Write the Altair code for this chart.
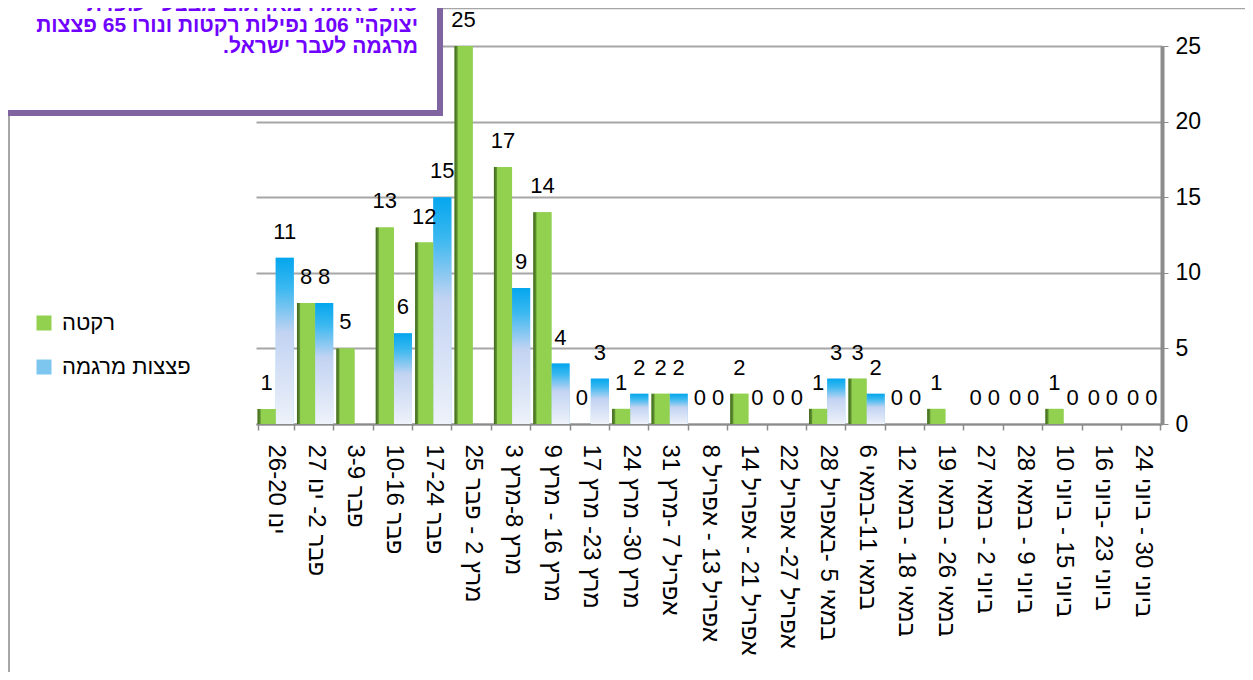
import re
import altair as alt
import pandas as pd

# ---------------- data ----------------
weeks = [
    "26-20 ינו",
    "27 ינו -2 פבר",
    "3-9 פבר",
    "10-16 פבר",
    "17-24 פבר",
    "25 פבר - 2 מרץ",
    "3 מרץ-8 מרץ",
    "9 מרץ - 16 מרץ",
    "17 מרץ -23 מרץ",
    "24 מרץ -30 מרץ",
    "31 מרץ- 7 אפריל",
    "8 אפריל - 13 אפריל",
    "14 אפריל - 21 אפריל",
    "22 אפריל -27 אפריל",
    "28 באפריל- 5 במאי",
    "6 במאי-11 במאי",
    "12 במאי - 18 במאי",
    "19 במאי - 26 במאי",
    "27 במאי - 2 ביוני",
    "28 במאי - 9 ביוני",
    "10 ביוני - 15 ביוני",
    "16 ביוני- 23 ביוני",
    "24 ביוני - 30 ביוני",
]
rockets = [1, 8, 5, 13, 12, 25, 17, 14, 0, 1, 2, 0, 2, 0, 1, 3, 0, 1, 0, 0, 1, 0, 0]
mortars = [11, 8, None, 6, 15, None, 9, 4, 3, 2, 2, 0, 0, 0, 3, 2, 0, None, 0, 0, 0, 0, 0]
series_names = ["רקטה", "פצצות מרגמה"]
y_ticks = [0, 5, 10, 15, 20, 25]
note_lines = [
    'סה"כ אותרו מאז תום מבצע "עופרת',
    'יצוקה" 106 נפילות רקטות ונורו 65  פצצות',
    "מרגמה לעבר ישראל.\u200f",
]

FONT = "Liberation Sans"


def visual_ltr(s):
    # keep the left-to-right word order seen in the picture
    return re.sub(r"([\u0590-\u05FF]+)", "\\1\u200e", s)


labels = [visual_ltr(w) for w in weeks]

rows = []
for lab, r, m in zip(labels, rockets, mortars):
    rows.append({"week": lab, "series": series_names[0], "value": r})
    if m is not None:
        rows.append({"week": lab, "series": series_names[1], "value": m})
df = pd.DataFrame(rows)

# ---------------- encodings ----------------
x_enc = alt.X(
    "week:N",
    scale=alt.Scale(domain=labels, paddingInner=0.08, paddingOuter=0.04),
    axis=alt.Axis(
        title=None,
        labelAngle=90,
        labelAlign="left",
        labelBaseline="middle",
        labelFontSize=24,
        labelFont=FONT,
        labelColor="#000000",
        labelLimit=400,
        labelPadding=14,
        tickBand="extent",
        tickSize=6,
        tickColor="#8c8c8c",
        tickWidth=1.5,
        domainColor="#8c8c8c",
        domainWidth=2,
        grid=False,
    ),
)
xoff_enc = alt.XOffset(
    "series:N", scale=alt.Scale(domain=series_names, paddingInner=0, paddingOuter=0)
)
y_enc = alt.Y(
    "value:Q",
    scale=alt.Scale(domain=[0, 25], nice=False),
    axis=alt.Axis(
        title=None,
        orient="right",
        values=y_ticks,
        labelFontSize=23,
        labelFont=FONT,
        labelColor="#000000",
        labelPadding=7,
        tickSize=6,
        tickColor="#8c8c8c",
        domainColor="#8c8c8c",
        domainWidth=4,
        grid=True,
        gridColor="#a6a6a6",
        gridWidth=2,
    ),
)

base = alt.Chart(df).encode(x=x_enc, xOffset=xoff_enc, y=y_enc)

bars_plain = base.mark_bar().encode(
    color=alt.Color(
        "series:N",
        scale=alt.Scale(domain=series_names, range=["#92D050", "#7cc6f0"]),
        legend=alt.Legend(
            orient="none",
            legendX=-223,
            legendY=266,
            title=None,
            labelFontSize=22,
            labelFont=FONT,
            labelColor="#000000",
            symbolType="square",
            symbolSize=225,
            symbolStrokeWidth=0,
            labelOffset=7,
            rowPadding=22,
            padding=0,
            labelLimit=300,
        ),
    )
)

green_grad = alt.LinearGradient(
    gradient="linear",
    stops=[
        alt.GradientStop(offset=0, color="#3f6420"),
        alt.GradientStop(offset=0.14, color="#5f8f2f"),
        alt.GradientStop(offset=0.2, color="#92D050"),
        alt.GradientStop(offset=1, color="#92D050"),
    ],
    x1=0, x2=1, y1=0, y2=0,
)
blue_grad = alt.LinearGradient(
    gradient="linear",
    stops=[
        alt.GradientStop(offset=0, color="#04a6ee"),
        alt.GradientStop(offset=0.18, color="#3ab8f0"),
        alt.GradientStop(offset=0.45, color="#c2d3f2"),
        alt.GradientStop(offset=1, color="#eef2fa"),
    ],
    x1=0, x2=0, y1=0, y2=1,
)

green_bars = base.mark_bar(color=green_grad).transform_filter(
    alt.datum.series == series_names[0]
)
blue_bars = base.mark_bar(color=blue_grad).transform_filter(
    alt.datum.series == series_names[1]
)

value_labels = base.mark_text(
    dy=-26, baseline="middle", align="center", fontSize=22, font=FONT, color="#000000"
).encode(text="value:Q")

one = alt.Data(values=[{"k": 1}])

frame_top = alt.Chart(one).mark_rule(color="#a6a6a6", strokeWidth=1.5).encode(
    x=alt.value(187), x2=alt.value(1100), y=alt.value(-37.5)
)
frame_left = alt.Chart(one).mark_rule(color="#a6a6a6", strokeWidth=2).encode(
    x=alt.value(-247), y=alt.value(70), y2=alt.value(700)
)

note_box = alt.Chart(one).mark_rect(
    fill="#ffffff", stroke="#8064A2", strokeWidth=6
).encode(x=alt.value(-300), x2=alt.value(184), y=alt.value(-90), y2=alt.value(67))

note_text = alt.Chart(one).mark_text(
    text=note_lines,
    align="right",
    baseline="middle",
    lineHeight=21,
    font=FONT,
    fontSize=21,
    fontWeight="bold",
    color="#7000FF",
).encode(x=alt.value(162), y=alt.value(-41))

chart = (
    alt.layer(
        bars_plain,
        blue_bars,
        green_bars,
        value_labels,
        frame_top,
        frame_left,
        note_box,
        note_text,
    )
    .properties(
        width=906,
        height=378,
        autosize=alt.AutoSizeParams(type="none"),
        padding={"left": 248, "top": 38, "right": 83, "bottom": 248},
    )
    .configure(font=FONT)
    .configure_view(stroke=None)
)

chart.save("out.html", embed_options={"renderer": "svg", "actions": False})
